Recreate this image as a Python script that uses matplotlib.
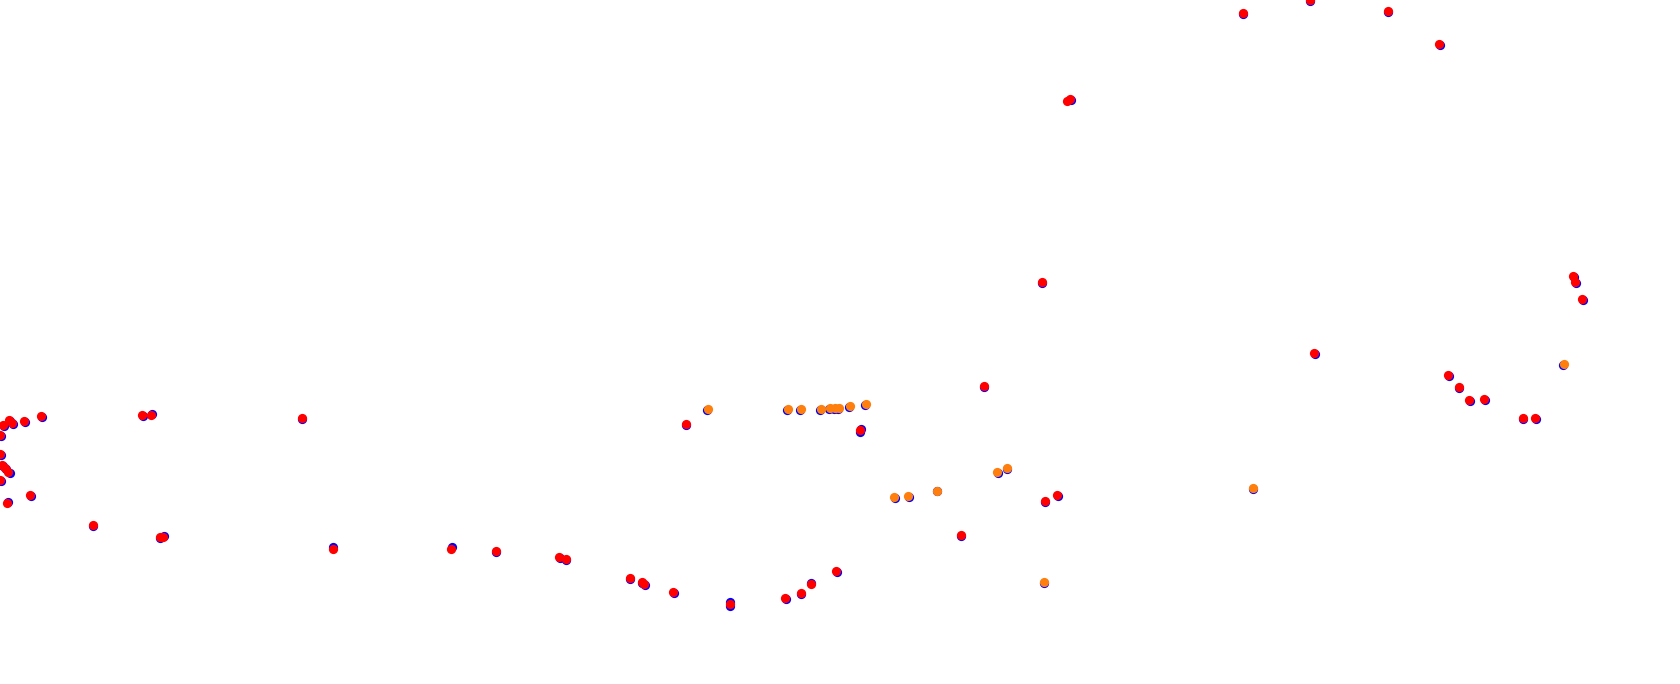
import matplotlib
matplotlib.use("Agg")
import matplotlib.pyplot as plt

# point positions (x to the right, y downwards)
red_x = [9, 12, 3, 0, 24, 41, 0, 5, 8, 0, 2, 30, 7,
         142, 151, 302, 93, 160, 163, 333, 451, 496, 559, 566, 630, 642, 644,
         673, 730, 785, 801, 811, 836, 686, 860, 1042, 984, 1045, 1057, 961,
         1070, 1067, 1243, 1310, 1388, 1439, 1573, 1575, 1582, 1448, 1459,
         1469, 1484, 1523, 1535, 1314]
red_y = [420, 423, 425, 435, 421, 416, 454, 468, 472, 480, 465, 495, 503,
         415, 415, 418, 525, 537, 537, 549, 549, 551, 557, 559, 578, 582, 584,
         592, 604, 598, 593, 584, 571, 424, 430, 282, 386, 501, 495, 535,
         99, 101, 13, 0, 11, 44, 276, 282, 299, 375, 387,
         400, 399, 418, 418, 353]

orange_x = [708, 788, 801, 821, 830, 835, 839, 850, 866, 894, 908, 937,
            997, 1007, 1253, 1044, 1564]
orange_y = [409, 409, 409, 409, 408, 408, 408, 406, 404, 497, 496, 491,
            472, 468, 488, 582, 364]

blue_x = [10, 13, 4, 1, 25, 42, 1, 6, 10, 1, 3, 31, 8,
          143, 152, 302, 93, 160, 164, 333, 452, 496, 560, 566, 630, 642, 645,
          674, 730, 730, 786, 801, 811, 837, 686, 861, 860, 1042, 984, 1045,
          1058, 961, 1071, 1243, 1310, 1388, 1440, 1574, 1576, 1583, 1449,
          1459, 1470, 1485, 1523, 1536, 1315,
          707, 787, 800, 820, 829, 834, 838, 849, 865, 895, 909, 937,
          998, 1007, 1253, 1044, 1563]
blue_y = [421, 424, 426, 436, 422, 417, 455, 469, 473, 481, 466, 496, 502,
          416, 414, 419, 526, 538, 536, 547, 547, 552, 558, 560, 579, 583, 585,
          593, 602, 606, 599, 594, 583, 572, 425, 429, 432, 283, 387, 502,
          496, 536, 100, 14, 1, 12, 45, 277, 283, 300, 376,
          388, 401, 400, 419, 419, 354,
          410, 410, 410, 410, 409, 409, 409, 407, 405, 498, 497, 491,
          473, 469, 489, 583, 365]

fig = plt.figure(figsize=(16.8, 6.84), dpi=100)
ax = fig.add_axes([0, 0, 1, 1])
ax.scatter(blue_x, blue_y, s=44, color="#0000ff", linewidths=0, zorder=1)
ax.scatter(orange_x, orange_y, s=44, color="#ff7f0e", linewidths=0, zorder=2)
ax.scatter(red_x, red_y, s=44, color="#ff0000", linewidths=0, zorder=3)
ax.set_xlim(0, 1680)
ax.set_ylim(684, 0)
ax.axis("off")

fig.savefig("out.png", dpi=100)
